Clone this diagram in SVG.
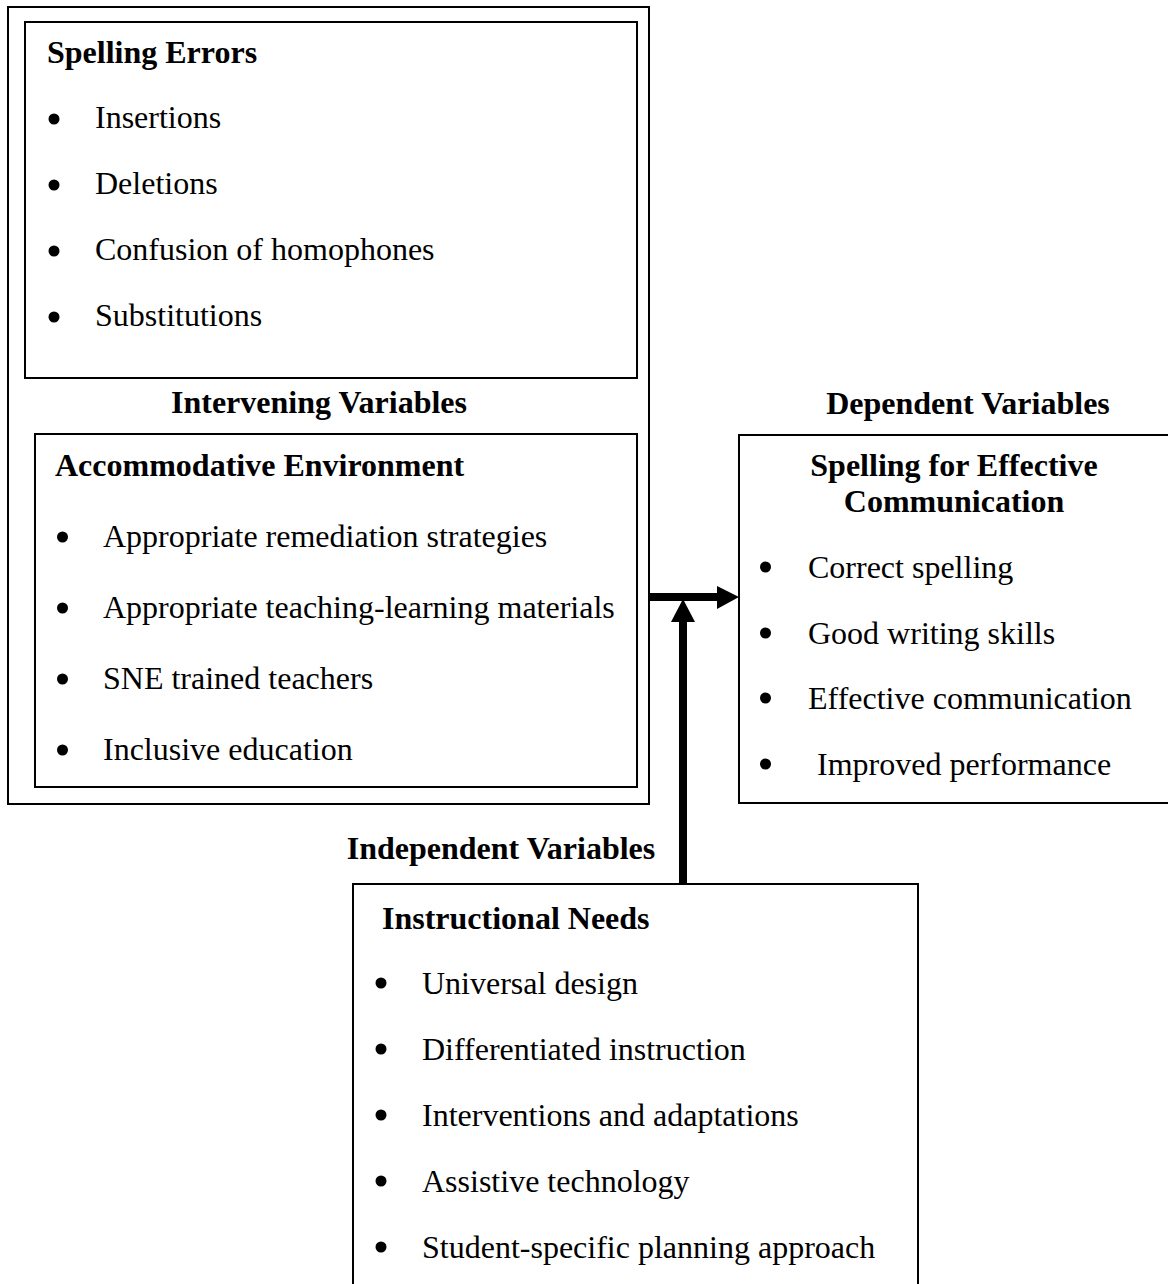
<svg xmlns="http://www.w3.org/2000/svg" width="1168" height="1284" viewBox="0 0 1168 1284">
<style>
.box{fill:none;stroke:#000;stroke-width:2}
.t{font-family:"Liberation Serif","Times New Roman",serif;font-size:32px;fill:#000}
.b{font-weight:bold}
.c{text-anchor:middle}
.dot{fill:#000}
</style>
<rect width="1168" height="1284" fill="#fff"/>
<g id="intervening">
<rect class="box" x="8" y="7" width="641" height="797"/>
<text class="t b c" x="319" y="413">Intervening Variables</text>
</g>
<g id="spelling-errors">
<rect class="box" x="25" y="22" width="612" height="356"/>
<text class="t b" x="47" y="63">Spelling Errors</text>
<circle class="dot" cx="54" cy="119" r="5.5"/><text class="t" x="95" y="128">Insertions</text>
<circle class="dot" cx="54" cy="185" r="5.5"/><text class="t" x="95" y="194">Deletions</text>
<circle class="dot" cx="54" cy="251" r="5.5"/><text class="t" x="95" y="260">Confusion of homophones</text>
<circle class="dot" cx="54" cy="317" r="5.5"/><text class="t" x="95" y="326">Substitutions</text>
</g>
<g id="accommodative">
<rect class="box" x="35" y="434" width="602" height="353"/>
<text class="t b" x="55" y="476">Accommodative Environment</text>
<circle class="dot" cx="62.5" cy="537" r="5.5"/><text class="t" x="103" y="547">Appropriate remediation strategies</text>
<circle class="dot" cx="62.5" cy="608" r="5.5"/><text class="t" x="103" y="618">Appropriate teaching-learning materials</text>
<circle class="dot" cx="62.5" cy="679" r="5.5"/><text class="t" x="103" y="689">SNE trained teachers</text>
<circle class="dot" cx="62.5" cy="750" r="5.5"/><text class="t" x="103" y="760">Inclusive education</text>
</g>
<g id="dependent">
<text class="t b c" x="968" y="414">Dependent Variables</text>
<rect class="box" x="739" y="435" width="440" height="368"/>
<text class="t b c" x="954" y="476">Spelling for Effective</text>
<text class="t b c" x="954" y="512">Communication</text>
<circle class="dot" cx="765.5" cy="567" r="5.5"/><text class="t" x="808" y="578">Correct spelling</text>
<circle class="dot" cx="765.5" cy="633" r="5.5"/><text class="t" x="808" y="644">Good writing skills</text>
<circle class="dot" cx="765.5" cy="698" r="5.5"/><text class="t" x="808" y="709">Effective communication</text>
<circle class="dot" cx="765.5" cy="764" r="5.5"/><text class="t" x="817" y="775">Improved performance</text>
</g>
<g id="independent">
<text class="t b c" x="501" y="859">Independent Variables</text>
<rect class="box" x="353" y="884" width="565" height="410"/>
<text class="t b" x="382" y="929">Instructional Needs</text>
<circle class="dot" cx="381" cy="983" r="5.5"/><text class="t" x="422" y="994">Universal design</text>
<circle class="dot" cx="381" cy="1049" r="5.5"/><text class="t" x="422" y="1060">Differentiated instruction</text>
<circle class="dot" cx="381" cy="1115" r="5.5"/><text class="t" x="422" y="1126">Interventions and adaptations</text>
<circle class="dot" cx="381" cy="1181" r="5.5"/><text class="t" x="422" y="1192">Assistive technology</text>
<circle class="dot" cx="381" cy="1247" r="5.5"/><text class="t" x="422" y="1258">Student-specific planning approach</text>
</g>
<g id="connectors">
<line x1="649" y1="597" x2="718" y2="597" stroke="#000" stroke-width="8"/>
<polygon points="717,586 739,597 717,609" fill="#000"/>
<line x1="683" y1="884" x2="683" y2="620" stroke="#000" stroke-width="8"/>
<polygon points="671,622 683,599 695,622" fill="#000"/>
</g>
</svg>
